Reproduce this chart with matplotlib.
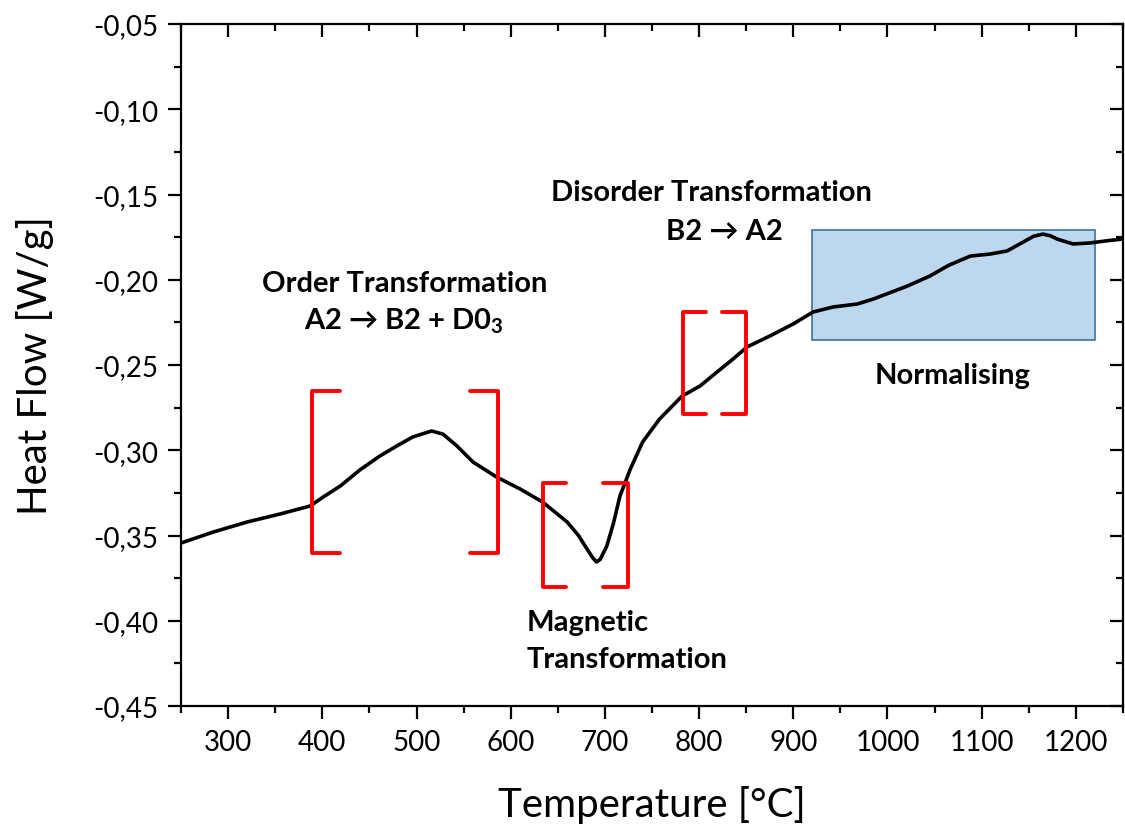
import matplotlib
matplotlib.use("Agg")
import matplotlib.pyplot as plt
from matplotlib.patches import Rectangle
from matplotlib.ticker import MultipleLocator, FuncFormatter

plt.rcParams['font.family'] = ['Lato', 'DejaVu Sans']
plt.rcParams['mathtext.fontset'] = 'custom'
plt.rcParams['mathtext.rm'] = 'Lato'
plt.rcParams['mathtext.bf'] = 'Lato:bold'

# DSC curve
temperature = [250, 284, 320, 355, 387, 401, 419, 440, 461, 479, 496, 516, 528,
               543, 560, 585, 610, 634, 660, 672, 681, 687, 691, 695, 702, 709,
               716, 727, 740, 758, 782, 801, 819, 836, 851, 875, 900, 921, 942,
               968, 985, 1003, 1021, 1045, 1065, 1088, 1109, 1127, 1144, 1155,
               1165, 1173, 1180, 1197, 1215, 1235, 1250]
heat_flow = [-0.3544, -0.3480, -0.3421, -0.3374, -0.3327, -0.3274, -0.3210,
             -0.3115, -0.3034, -0.2975, -0.2922, -0.2887, -0.2905, -0.2975,
             -0.3069, -0.3157, -0.3227, -0.3304, -0.3421, -0.3500, -0.3579,
             -0.3630, -0.3655, -0.3640, -0.3562, -0.3430, -0.3268, -0.3110,
             -0.2952, -0.2817, -0.2682, -0.2623, -0.2541, -0.2465, -0.2394,
             -0.2330, -0.2259, -0.2189, -0.2160, -0.2142, -0.2113, -0.2075,
             -0.2037, -0.1978, -0.1915, -0.1861, -0.1849, -0.1831, -0.1779,
             -0.1745, -0.1732, -0.1742, -0.1761, -0.1790, -0.1784, -0.1770,
             -0.1761]

# bracket pairs: (left, left serif end, right serif start, right, bottom, top)
brackets = [
    (389, 419, 557, 587, -0.360, -0.265),
    (634, 659, 698, 724, -0.380, -0.319),
    (783, 807, 824, 850, -0.279, -0.219),
]

# normalising region
norm_x = (920, 1220)
norm_y = (-0.2353, -0.1708)

fig = plt.figure(figsize=(11.25, 8.37), dpi=100)
ax = fig.add_axes([0.1609, 0.1553, 0.8373, 0.8148])

ax.add_patch(Rectangle((norm_x[0], norm_y[0]), norm_x[1] - norm_x[0],
                       norm_y[1] - norm_y[0], facecolor='#BDD7EE',
                       edgecolor='#41719C', linewidth=1.2, zorder=1))

ax.plot(temperature, heat_flow, color='black', linewidth=2.6, zorder=3,
        solid_joinstyle='round', solid_capstyle='round')

for xl, xls, xrs, xr, yb, yt in brackets:
    for xs in ([xls, xl, xl, xls], [xrs, xr, xr, xrs]):
        ax.plot(xs, [yt, yt, yb, yb], color='#FF0000', linewidth=2.8,
                solid_joinstyle='round', solid_capstyle='round', zorder=4)

# annotations
bold = dict(fontsize=21, fontweight='bold', zorder=5)
ax.text(487, -0.2019, 'Order Transformation', ha='center', va='center', **bold)
ax.text(487, -0.2236, r'A2 → B2 + D0$_\mathbf{3}$', ha='center', va='center', **bold)
ax.text(813, -0.1485, 'Disorder Transformation', ha='center', va='center', **bold)
ax.text(827, -0.1714, 'B2 → A2', ha='center', va='center', **bold)
ax.text(1069, -0.2559, 'Normalising', ha='center', va='center', **bold)
ax.text(617, -0.4007, 'Magnetic', ha='left', va='center', **bold)
ax.text(617, -0.4224, 'Transformation', ha='left', va='center', **bold)

ax.set_xlim(250, 1250)
ax.set_ylim(-0.45, -0.05)
ax.xaxis.set_major_locator(MultipleLocator(100))
ax.xaxis.set_minor_locator(MultipleLocator(50))
ax.yaxis.set_major_locator(MultipleLocator(0.05))
ax.yaxis.set_minor_locator(MultipleLocator(0.025))
ax.yaxis.set_major_formatter(FuncFormatter(lambda v, p: f"{v:.2f}".replace('.', ',')))

for s in ax.spines.values():
    s.set_linewidth(1.6)

ax.tick_params(axis='both', which='major', length=9.5, width=1.6, labelsize=20, pad=7)
ax.tick_params(axis='both', which='minor', length=5, width=1.6)
ax.tick_params(axis='x', which='both', top=True, direction='out')
ax.tick_params(axis='y', which='both', right=True, direction='out')
# top and right ticks point inward
for t in ax.xaxis.get_major_ticks() + ax.xaxis.get_minor_ticks():
    t.tick2line.set_marker(3)
for t in ax.yaxis.get_major_ticks() + ax.yaxis.get_minor_ticks():
    t.tick2line.set_marker(0)

ax.set_xlabel('Temperature [°C]', fontsize=29, labelpad=22)
ax.set_ylabel('Heat Flow [W/g]', fontsize=29, labelpad=28)

fig.savefig('out.png', dpi=100)
